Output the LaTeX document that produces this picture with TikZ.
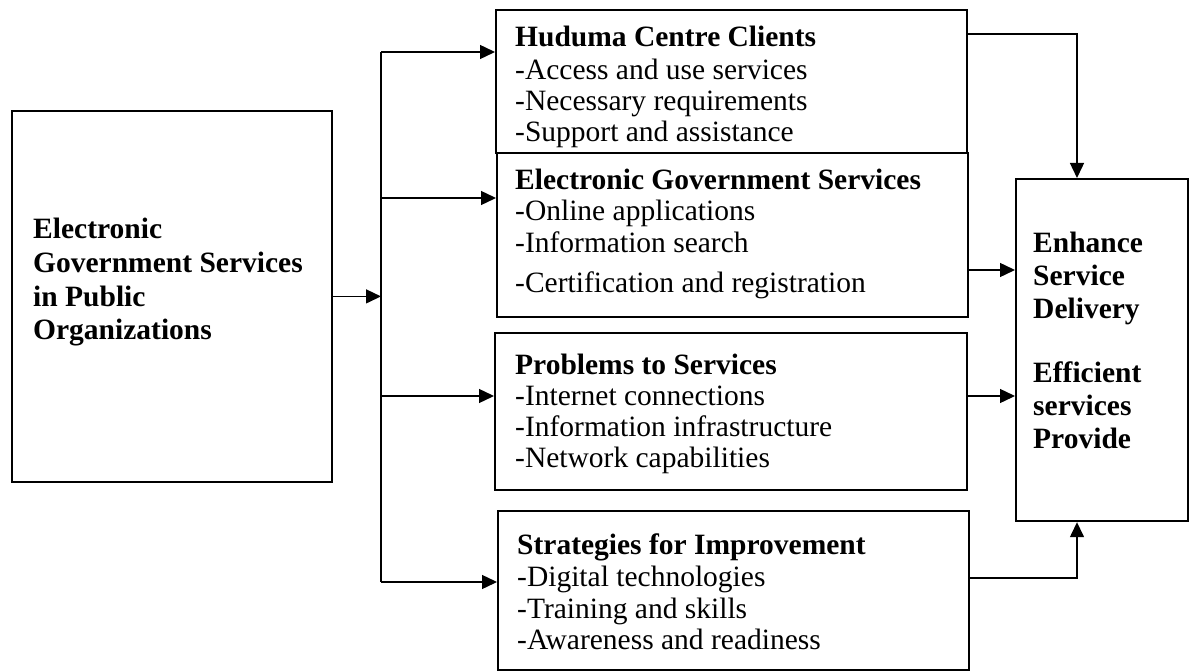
\documentclass[tikz,border=0pt]{standalone}
\usepackage{fontspec}
\setmainfont{Liberation Serif}
\usetikzlibrary{arrows.meta}
\begin{document}
\begin{tikzpicture}[x=1pt,y=-1pt,
  box/.style={draw, line width=1.8pt, fill=white, inner sep=0pt, anchor=north west},
  txt/.style={anchor=base west, inner sep=0pt, font=\fontsize{29.5}{31}\selectfont},
  btxt/.style={txt, font=\fontsize{29.5}{31}\selectfont\bfseries},
  link/.style={line width=1.4pt},
  arr/.style={link, -{Triangle[length=15pt,width=14pt]}}]
\useasboundingbox (0,0) rectangle (1194,671);

% source box
\node[box, minimum width=320pt, minimum height=371pt] (L) at (11,110) {};
\foreach \y/\t [count=\i] in {239/Electronic, 272/Government Services, 306/in Public, 339/Organizations}
  \node[btxt] (L-\i) at (33,\y) {\t};

% middle column of boxes
\node[box, minimum width=471pt, minimum height=143pt] (b1) at (495,9) {};
\node[btxt] (b1-0) at (515,47) {Huduma Centre Clients};
\foreach \y/\t [count=\i] in {80/-Access and use services, 111/-Necessary requirements, 142/-Support and assistance}
  \node[txt] (b1-\i) at (515,\y) {\t};

\node[box, minimum width=471pt, minimum height=164pt] (b2) at (496,152) {};
\node[btxt] (b2-0) at (515,190) {Electronic Government Services};
\foreach \y/\t [count=\i] in {221/-Online applications, 252/-Information search, 292/-Certification and registration}
  \node[txt] (b2-\i) at (515,\y) {\t};

\node[box, minimum width=472pt, minimum height=157pt] (b3) at (494,332) {};
\node[btxt] (b3-0) at (515,374) {Problems to Services};
\foreach \y/\t [count=\i] in {405/-Internet connections, 436/-Information infrastructure, 467/-Network capabilities}
  \node[txt] (b3-\i) at (515,\y) {\t};

\node[box, minimum width=471pt, minimum height=159pt] (b4) at (497,510) {};
\node[btxt] (b4-0) at (517,554) {Strategies for Improvement};
\foreach \y/\t [count=\i] in {586/-Digital technologies, 618/-Training and skills, 649/-Awareness and readiness}
  \node[txt] (b4-\i) at (517,\y) {\t};

% outcome box
\node[box, line width=2.2pt, minimum width=172pt, minimum height=342pt] (E) at (1015,178) {};
\foreach \y/\t [count=\i] in {252/Enhance, 285/Service, 318/Delivery, 382/Efficient, 415/services, 448/Provide}
  \node[btxt] (E-\i) at (1033,\y) {\t};

% distribution bus
\coordinate (bt) at (381,52);
\coordinate (b2in) at (381,198);
\coordinate (b3in) at (381,396);
\coordinate (bb) at (381,582);
\draw[arr] (L.east) -- (L.east -| bt);
\draw[link] (bt) -- (bb);
\draw[arr] (bt) -- (bt -| b1.west);
\draw[arr] (b2in) -- (b2in -| b2.west);
\draw[arr] (b3in) -- (b3in -| b3.west);
\draw[arr] (bb) -- (bb -| b4.west);

% links into the outcome box
\coordinate (rt) at (1077,34);
\coordinate (rb) at (1077,578);
\coordinate (r2) at (967,270);
\coordinate (r3) at (966,396);
\draw[arr] (b1.east |- rt) -- (rt) -- (rt |- E.north);
\draw[arr] (r2) -- (r2 -| E.west);
\draw[arr] (r3) -- (r3 -| E.west);
\draw[arr] (b4.east |- rb) -- (rb) -- (rb |- E.south);
\end{tikzpicture}
\end{document}
